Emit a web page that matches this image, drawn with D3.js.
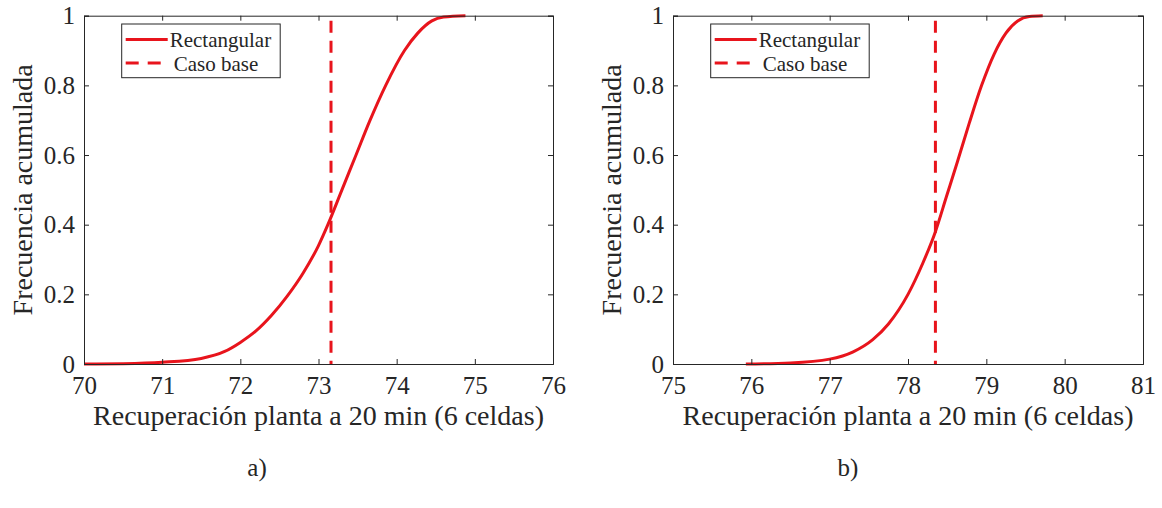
<!DOCTYPE html>
<html>
<head>
<meta charset="utf-8">
<script src="https://cdn.jsdelivr.net/npm/d3@7"></script>
<style>
  html, body { margin: 0; padding: 0; background: #fff; }
  svg { display: block; }
  text { font-family: "Liberation Serif", "Times New Roman", serif; fill: #262626; }
</style>
</head>
<body>
<svg id="chart" width="1162" height="508"></svg>
<script>
// ---- Data ----
const xTicksA = [70, 71, 72, 73, 74, 75, 76];
const xTicksB = [75, 76, 77, 78, 79, 80, 81];
const yTicks = [0, 0.2, 0.4, 0.6, 0.8, 1];
const yTickLabels = ["0", "0.2", "0.4", "0.6", "0.8", "1"];

const cdfA_x = [70.0, 70.5, 71.0, 71.5, 71.8, 72.0, 72.2, 72.4, 72.6, 72.8, 73.0, 73.12, 73.3, 73.48, 73.66, 73.86, 74.1, 74.27, 74.45, 74.6, 74.88];
const cdfA_y = [0.0, 0.001, 0.005, 0.016, 0.036, 0.062, 0.095, 0.14, 0.195, 0.26, 0.34, 0.4, 0.5, 0.6, 0.7, 0.8, 0.9, 0.95, 0.985, 0.996, 1.0];
const cdfB_x = [75.93, 76.5, 77.0, 77.3, 77.55, 77.75, 78.0, 78.19, 78.35, 78.49, 78.63, 78.78, 78.94, 79.1, 79.25, 79.4, 79.55, 79.72];
const cdfB_y = [0.0, 0.003, 0.014, 0.035, 0.07, 0.115, 0.2, 0.29, 0.38, 0.48, 0.58, 0.69, 0.8, 0.89, 0.95, 0.985, 0.998, 1.0];
const baseA = 73.16;
const baseB = 78.35;

const legendLabels = ["Rectangular", "Caso base"];
const xLabel = "Recuperación planta a 20 min (6 celdas)";
const yLabel = "Frecuencia acumulada";
const panelTags = ["a)", "b)"];

// ---- Layout ----
const red = "#e8141c";
const axisColor = "#262626";
const plotTop = 15.7, plotBottom = 364;
const panels = [
  { xDomain: [70, 76], left: 84, right: 553, ticks: xTicksA, cx: cdfA_x, cy: cdfA_y, base: baseA, tag: panelTags[0], tagX: 257 },
  { xDomain: [75, 81], left: 673, right: 1143, ticks: xTicksB, cx: cdfB_x, cy: cdfB_y, base: baseB, tag: panelTags[1], tagX: 848 }
];

const svg = d3.select("#chart");
svg.append("rect").attr("width", 1162).attr("height", 508).attr("fill", "#fff");

panels.forEach(p => {
  const x = d3.scaleLinear().domain(p.xDomain).range([p.left, p.right]);
  const y = d3.scaleLinear().domain([0, 1]).range([plotBottom, plotTop]);
  const g = svg.append("g");
  const tickLen = 5;

  // Curve
  const pts = p.cx.map((v, i) => [v, p.cy[i]]);
  const line = d3.line().x(d => x(d[0])).y(d => y(d[1])).curve(d3.curveMonotoneX);
  g.append("path").datum(pts).attr("d", line)
    .attr("fill", "none").attr("stroke", red).attr("stroke-width", 3).attr("stroke-linejoin", "round");

  // Base case vertical dashed line
  g.append("line")
    .attr("x1", x(p.base)).attr("x2", x(p.base))
    .attr("y1", y(1) + 5).attr("y2", y(0))
    .attr("stroke", red).attr("stroke-width", 3).attr("stroke-dasharray", "12,8");

  // Axes (bottom, left) with inward ticks; box with mirrored ticks
  const xAxis = d3.axisBottom(x).tickValues(p.ticks).tickSize(-tickLen).tickPadding(0).tickFormat(d3.format("d"));
  const xg = g.append("g").attr("transform", `translate(0,${plotBottom})`).call(xAxis);
  const yAxis = d3.axisLeft(y).tickValues(yTicks).tickSize(-tickLen).tickPadding(0).tickFormat((d, i) => yTickLabels[i]);
  const yg = g.append("g").attr("transform", `translate(${p.left},0)`).call(yAxis);
  const xt = d3.axisTop(x).tickValues(p.ticks).tickSize(-tickLen).tickFormat("");
  const xtg = g.append("g").attr("transform", `translate(0,${plotTop})`).call(xt);
  const yr = d3.axisRight(y).tickValues(yTicks).tickSize(-tickLen).tickFormat("");
  const yrg = g.append("g").attr("transform", `translate(${p.right},0)`).call(yr);

  [xg, yg, xtg, yrg].forEach(a => {
    a.select(".domain").attr("stroke", axisColor).attr("stroke-width", 1);
    a.selectAll(".tick line").attr("stroke", axisColor).attr("stroke-width", 1);
  });
  xg.selectAll(".tick text")
    .attr("y", 0).attr("dy", null)
    .attr("transform", "translate(0,30)")
    .style("font-size", "25px").style("font-family", "Liberation Serif").attr("fill", axisColor);
  yg.selectAll(".tick text")
    .attr("x", -9).attr("dy", "0.33em")
    .style("font-size", "25px").style("font-family", "Liberation Serif").attr("fill", axisColor);

  // Axis labels
  g.append("text")
    .attr("x", (p.left + p.right) / 2).attr("y", 425)
    .attr("text-anchor", "middle").style("font-size", "28px")
    .text(xLabel);
  g.append("text")
    .attr("transform", `translate(${p.left - 52},${(plotTop + plotBottom) / 2}) rotate(-90)`)
    .attr("text-anchor", "middle").style("font-size", "28px")
    .text(yLabel);

  // Legend
  const lx = p.left + 37.7, ly = 24, lw = 158.5, lh = 53.7;
  g.append("rect").attr("x", lx).attr("y", ly).attr("width", lw).attr("height", lh)
    .attr("fill", "#fff").attr("stroke", axisColor).attr("stroke-width", 1);
  g.append("line").attr("x1", lx + 4).attr("x2", lx + 46).attr("y1", 39.5).attr("y2", 39.5)
    .attr("stroke", red).attr("stroke-width", 3);
  g.append("line").attr("x1", lx + 4).attr("x2", lx + 46).attr("y1", 63).attr("y2", 63)
    .attr("stroke", red).attr("stroke-width", 3).attr("stroke-dasharray", "13,9");
  g.append("text").attr("x", lx + 48).attr("y", 47).style("font-size", "21px").text(legendLabels[0]);
  g.append("text").attr("x", lx + 52).attr("y", 71).style("font-size", "21px").text(legendLabels[1]);

  // Panel tag
  g.append("text").attr("x", p.tagX).attr("y", 476).attr("text-anchor", "middle")
    .style("font-size", "25px").attr("fill", "#000").text(p.tag);
});
</script>
</body>
</html>
